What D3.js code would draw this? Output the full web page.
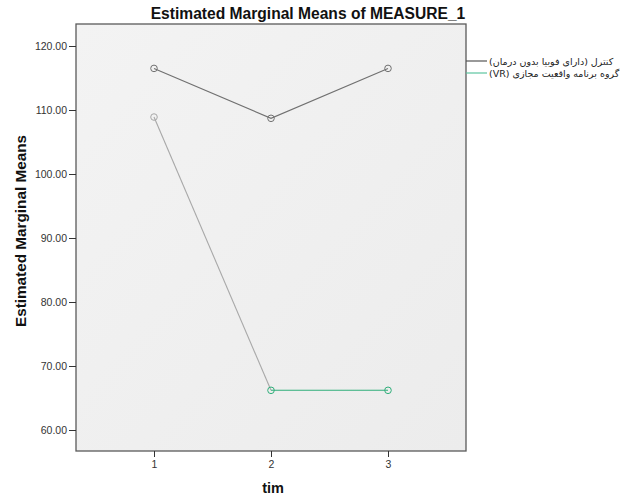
<!DOCTYPE html>
<html><head><meta charset="utf-8">
<script src="https://cdn.jsdelivr.net/npm/d3@7"></script>
<style>body{margin:0;background:#fff}</style>
</head><body>
<script>
const times = [1, 2, 3];
const controlValues = [116.5, 108.7, 116.5];
const vrValues = [108.9, 66.2, 66.2];
const yTicks = [60, 70, 80, 90, 100, 110, 120];
const seriesNames = ["کنترل (دارای فوبیا بدون درمان)", "گروه برنامه واقعیت مجازی (VR)"];
const vrSegmentColors = ["#a8a8a8", "#2fae7a"];

const W = 626, H = 498;
const svg = d3.select("body").append("svg").attr("width", W).attr("height", H)
  .style("font-family", "'Liberation Sans', Arial, sans-serif");

const L = 76, R = 466, T = 24, B = 451;
const x = d3.scaleLinear().domain([1/3, 11/3]).range([L, R]);
const y = d3.scaleLinear().domain([60 - 21/6.4, 120 + 22/6.4]).range([B, T]);

// background
const grad = svg.append("defs").append("linearGradient").attr("id","bg").attr("x1","0").attr("y1","0").attr("x2","1").attr("y2","1");
grad.append("stop").attr("offset","0").attr("stop-color","#f3f3f3");
grad.append("stop").attr("offset","1").attr("stop-color","#ececec");
svg.append("rect").attr("x", L).attr("y", T).attr("width", R - L).attr("height", B - T)
  .attr("fill", "url(#bg)").attr("stroke", "#5a5a5a").attr("stroke-width", 1.3);

// axes
const yAxis = d3.axisLeft(y).tickValues(yTicks).tickFormat(d3.format(".2f")).tickSize(7).tickPadding(2);
const gy = svg.append("g").attr("transform", `translate(${L},0)`).call(yAxis);
gy.select(".domain").remove();
gy.selectAll("line").attr("stroke", "#333");
gy.selectAll("text").attr("font-size", 10.5).attr("fill", "#333");

const xAxis = d3.axisBottom(x).tickValues(times).tickFormat(d3.format("d")).tickSize(6).tickPadding(4);
const gx = svg.append("g").attr("transform", `translate(0,${B})`).call(xAxis);
gx.select(".domain").remove();
gx.selectAll("line").attr("stroke", "#333");
gx.selectAll("text").attr("font-size", 10.5).attr("fill", "#333");

// control line
const line = d3.line().x((d, i) => x(times[i])).y(d => y(d));
svg.append("path").datum(controlValues).attr("d", line)
  .attr("fill", "none").attr("stroke", "#707070").attr("stroke-width", 1.1);
svg.selectAll(".cpt").data(controlValues).enter().append("circle")
  .attr("cx", (d, i) => x(times[i])).attr("cy", d => y(d)).attr("r", 3.3)
  .attr("fill", "none").attr("stroke", "#707070").attr("stroke-width", 1);

// VR line by segments
const segs = d3.pairs(vrValues.map((v, i) => ({t: times[i], v})));
svg.selectAll(".vseg").data(segs).enter().append("line")
  .attr("x1", d => x(d[0].t)).attr("y1", d => y(d[0].v))
  .attr("x2", d => x(d[1].t)).attr("y2", d => y(d[1].v))
  .attr("stroke", (d, i) => vrSegmentColors[i]).attr("stroke-width", 1.1);
svg.selectAll(".vpt").data(vrValues).enter().append("circle")
  .attr("cx", (d, i) => x(times[i])).attr("cy", d => y(d)).attr("r", 3.3)
  .attr("fill", "none").attr("stroke", (d, i) => i === 0 ? vrSegmentColors[0] : vrSegmentColors[1]).attr("stroke-width", 1);

// legend (right-to-left text, left edge next to the legend line)
const legColors = ["#555555", "#5cc4a0"];
const legY = [61, 73];
seriesNames.forEach((n, i) => {
  svg.append("line").attr("x1", R).attr("x2", 487).attr("y1", legY[i]).attr("y2", legY[i])
    .attr("stroke", legColors[i]).attr("stroke-width", 1.2);
  svg.append("text").attr("x", 489).attr("y", legY[i] + 3.5)
    .attr("direction", "rtl").attr("text-anchor", "end")
    .attr("font-size", 9.5).attr("fill", "#222")
    .style("font-family", "'DejaVu Sans', 'Noto Sans', sans-serif")
    .text(n);
});

// titles
svg.append("text").attr("x", 308).attr("y", 19).attr("text-anchor", "middle")
  .attr("font-size", 15.6).attr("font-weight", "bold").attr("fill", "#111")
  .text("Estimated Marginal Means of MEASURE_1");
svg.append("text").attr("transform", `translate(26,231) rotate(-90)`)
  .attr("text-anchor", "middle").attr("font-size", 15.3).attr("font-weight", "bold").attr("fill", "#111")
  .text("Estimated Marginal Means");
svg.append("text").attr("x", x(2) + 2).attr("y", 493).attr("text-anchor", "middle")
  .attr("font-size", 14.5).attr("font-weight", "bold").attr("fill", "#111")
  .text("tim");
</script>
</body></html>
